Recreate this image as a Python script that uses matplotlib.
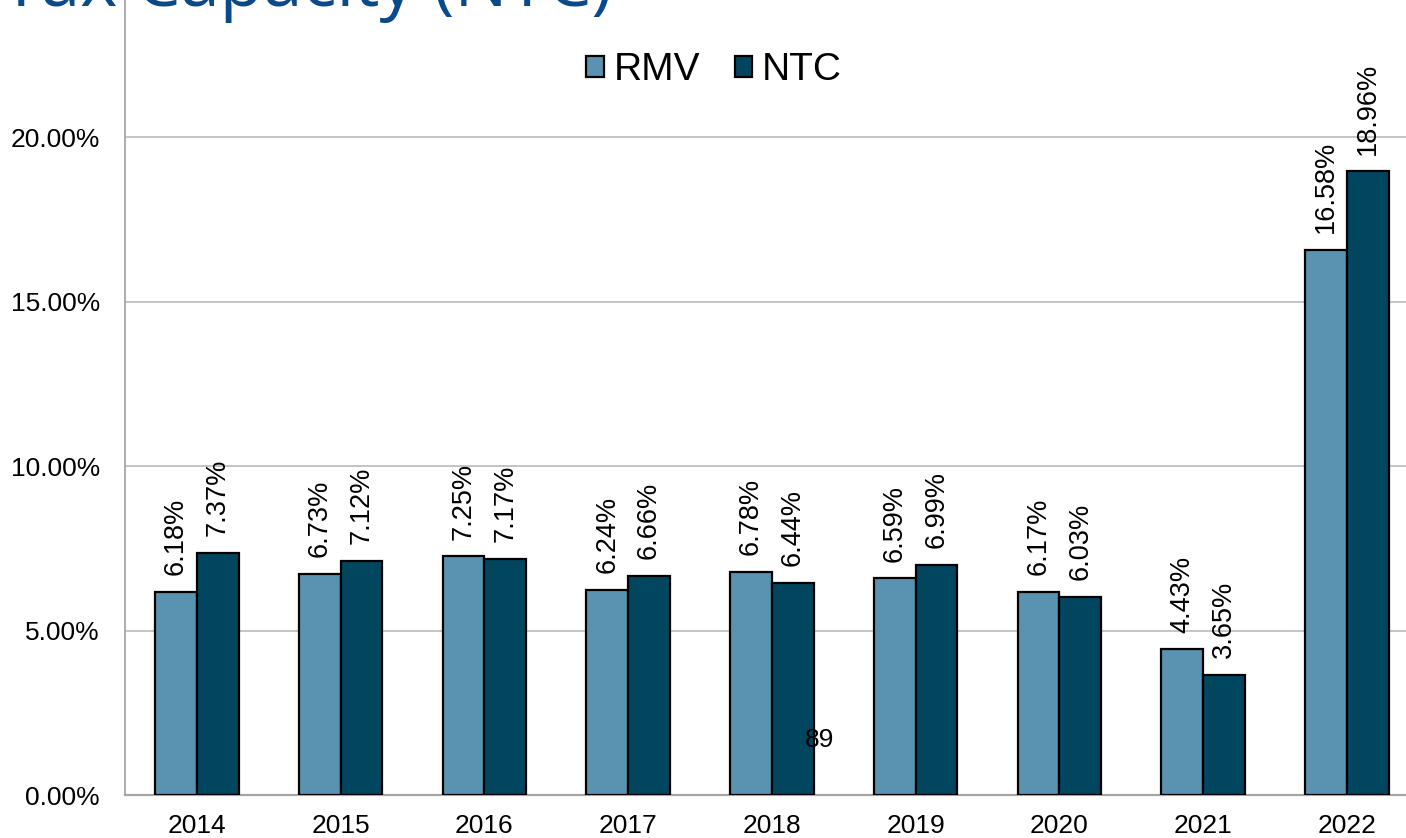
import matplotlib
matplotlib.use("Agg")
import matplotlib.pyplot as plt
from matplotlib.patches import Patch
import numpy as np

years = ["2014", "2015", "2016", "2017", "2018", "2019", "2020", "2021", "2022"]
rmv = [6.18, 6.73, 7.25, 6.24, 6.78, 6.59, 6.17, 4.43, 16.58]
ntc = [7.37, 7.12, 7.17, 6.66, 6.44, 6.99, 6.03, 3.65, 18.96]
series_names = ["RMV", "NTC"]
yticks = [0, 5, 10, 15, 20]
title_text = "Net Tax Capacity (NTC)"
page_number = "89"

rmv_color = "#5A93B1"
ntc_color = "#02455F"

plt.rcParams['font.family'] = ['Liberation Sans', 'DejaVu Sans']

W, H = 1406, 838
fig = plt.figure(figsize=(W / 100, H / 100), dpi=100)
left, right = 125 / W, 1418.75 / W
bottom, top = 1 - 795 / H, 1.0
ax = fig.add_axes([left, bottom, right - left, top - bottom])

x = np.arange(len(years))
bw = 0.29
b1 = ax.bar(x - bw / 2, rmv, bw, color=rmv_color, edgecolor="black", linewidth=1.6, zorder=3)
b2 = ax.bar(x + bw / 2, ntc, bw, color=ntc_color, edgecolor="black", linewidth=1.6, zorder=3)

for bars, vals in ((b1, rmv), (b2, ntc)):
    for rect, v in zip(bars, vals):
        ax.annotate(f"{v:.2f}%", (rect.get_x() + rect.get_width() / 2, v),
                    xytext=(0, 12), textcoords="offset points", rotation=90,
                    ha="center", va="bottom", fontsize=19.5, color="black", zorder=4)

ax.set_xlim(-0.5, len(years) - 0.5)
ax.set_ylim(0, 795 / 32.9)
ax.set_yticks(yticks)
ax.set_yticklabels([f"{t:.2f}%" for t in yticks])
ax.set_xticks(x)
ax.set_xticklabels(years)
ax.tick_params(axis="both", length=0, labelsize=19, colors="black")
ax.tick_params(axis="y", pad=18)
ax.tick_params(axis="x", pad=14)
ax.grid(axis="y", color="#BFBFBF", linewidth=1.3, zorder=0)
for s in ("top", "right"):
    ax.spines[s].set_visible(False)
ax.spines["left"].set_color("#A6A6A6")
ax.spines["left"].set_linewidth(1.3)
ax.spines["bottom"].set_color("#A6A6A6")
ax.spines["bottom"].set_linewidth(1.6)

handles = [Patch(facecolor=rmv_color, edgecolor="black", linewidth=1.6),
           Patch(facecolor=ntc_color, edgecolor="black", linewidth=1.6)]
fig.legend(handles, series_names, loc="center", bbox_to_anchor=(714 / W, 1 - 70 / H),
           ncol=2, frameon=False, fontsize=28, handlelength=0.45, handleheight=0.45,
           handletextpad=0.25, columnspacing=0.9)

fig.text(612 / W, 1 - 6 / H, title_text, ha="right", va="baseline", fontsize=51,
         color="#0B4A8A", family=["Open Sans", "DejaVu Sans"])
fig.text(820 / W, 1 - 740 / H, page_number, ha="center", va="center", fontsize=19, color="black")

fig.savefig("out.png", dpi=100)
